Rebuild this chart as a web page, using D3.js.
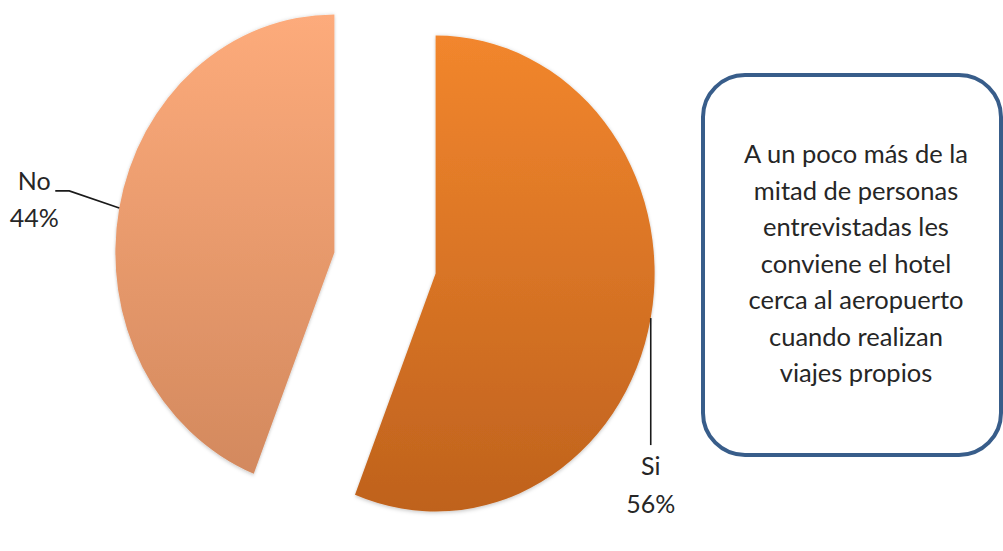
<!DOCTYPE html>
<html>
<head>
<meta charset="utf-8">
<script src="https://cdn.jsdelivr.net/npm/d3@7"></script>
<style>
    body { margin: 0; background: #ffffff; }
    svg { display: block; }
</style>
</head>
<body>
<div id="chart"></div>
<script>
const categories = ["Si", "No"];
const values = [56, 44];
const topColors = ["#F2862D", "#FDAB7B"];
const bottomColors = ["#BF621D", "#D3895E"];
const noteLines = [
    "A un poco más de la",
    "mitad de personas",
    "entrevistadas les",
    "conviene el hotel",
    "cerca al aeropuerto",
    "cuando realizan",
    "viajes propios"
];

function drawPie() {
    const width = 1003,
        height = 551;
    const cx = 385, cy = 263;
    const rx = 219, ry = 238;
    const explode = 56;
    const fontFamily = "Lato, 'Open Sans', sans-serif";

    const svg = d3.select("#chart")
        .append("svg")
            .attr("width", width)
            .attr("height", height);

    const defs = svg.append("defs");

    categories.forEach((c, i) => {
        const grad = defs.append("linearGradient")
            .attr("id", "grad-" + i)
            .attr("x1", 0).attr("y1", 0)
            .attr("x2", 0).attr("y2", 1);
        grad.append("stop").attr("offset", "0%").attr("stop-color", topColors[i]);
        grad.append("stop").attr("offset", "100%").attr("stop-color", bottomColors[i]);
    });

    const shadow = defs.append("filter")
        .attr("id", "shadow")
        .attr("x", "-10%").attr("y", "-10%")
        .attr("width", "120%").attr("height", "120%");
    shadow.append("feDropShadow")
        .attr("dx", 0).attr("dy", 1)
        .attr("stdDeviation", 2)
        .attr("flood-color", "#000")
        .attr("flood-opacity", 0.25);

    const data = categories.map((c, i) => ({ name: c, value: values[i], idx: i }));

    const pie = d3.pie()
        .sort(null)
        .value(d => d.value);

    const arc = d3.arc()
        .innerRadius(0)
        .outerRadius(ry);

    const arcs = pie(data);
    const sx = rx / ry;

    // point in page coordinates from angle / radius of the exploded, stretched pie
    const toPage = (d, angle, r) => {
        const mid = (d.startAngle + d.endAngle) / 2;
        const ox = explode * Math.sin(mid),
            oy = -explode * Math.cos(mid);
        return [cx + sx * (ox + r * Math.sin(angle)), cy + oy - r * Math.cos(angle)];
    };

    const g = svg.append("g")
        .attr("transform", "translate(" + cx + "," + cy + ") scale(" + sx + ",1)");

    g.selectAll(".slice")
        .data(arcs)
        .join("path")
            .attr("class", "slice")
            .attr("d", arc)
            .attr("transform", d => {
                const mid = (d.startAngle + d.endAngle) / 2;
                return "translate(" + explode * Math.sin(mid) + "," + (-explode * Math.cos(mid)) + ")";
            })
            .attr("fill", d => "url(#grad-" + d.data.idx + ")")
            .attr("filter", "url(#shadow)");

    // labels
    const labelLayout = {
        "Si": { elbow: [0, 127], end: [0, 127], tx: 0, ty: [157, 195] },
        "No": { elbow: [-50, -17], end: [-64, -17], tx: -85, ty: [-18, 19] }
    };

    arcs.forEach(d => {
        const mid = (d.startAngle + d.endAngle) / 2;
        const p = toPage(d, mid, ry);
        const lay = labelLayout[d.data.name];
        const pts = [p, [p[0] + lay.elbow[0], p[1] + lay.elbow[1]], [p[0] + lay.end[0], p[1] + lay.end[1]]];

        svg.append("path")
            .attr("d", d3.line()(pts))
            .attr("fill", "none")
            .attr("stroke", "#1a1a1a")
            .attr("stroke-width", 1.6);

        const tx = p[0] + lay.tx;
        svg.append("text")
            .attr("x", tx)
            .attr("y", p[1] + lay.ty[0])
            .style("font-family", fontFamily)
            .style("font-size", "25px")
            .style("text-anchor", "middle")
            .attr("fill", "#262626")
            .text(d.data.name);

        svg.append("text")
            .attr("x", tx)
            .attr("y", p[1] + lay.ty[1])
            .style("font-family", fontFamily)
            .style("font-size", "25px")
            .style("text-anchor", "middle")
            .attr("fill", "#262626")
            .text(d3.format(".0f")(d.data.value) + "%");
    });

    // note box
    const box = { x: 703, y: 75, w: 298, h: 380 };
    svg.append("rect")
        .attr("x", box.x)
        .attr("y", box.y)
        .attr("width", box.w)
        .attr("height", box.h)
        .attr("rx", 42)
        .attr("ry", 42)
        .attr("fill", "#ffffff")
        .attr("stroke", "#385D8A")
        .attr("stroke-width", 4);

    svg.selectAll(".note")
        .data(noteLines)
        .join("text")
            .attr("class", "note")
            .attr("x", 856)
            .attr("y", (d, i) => 163 + i * 36.5)
            .style("font-family", fontFamily)
            .style("font-size", "25.5px")
            .style("text-anchor", "middle")
            .attr("fill", "#262626")
            .text(d => d);
}

drawPie();
</script>
</body>
</html>
